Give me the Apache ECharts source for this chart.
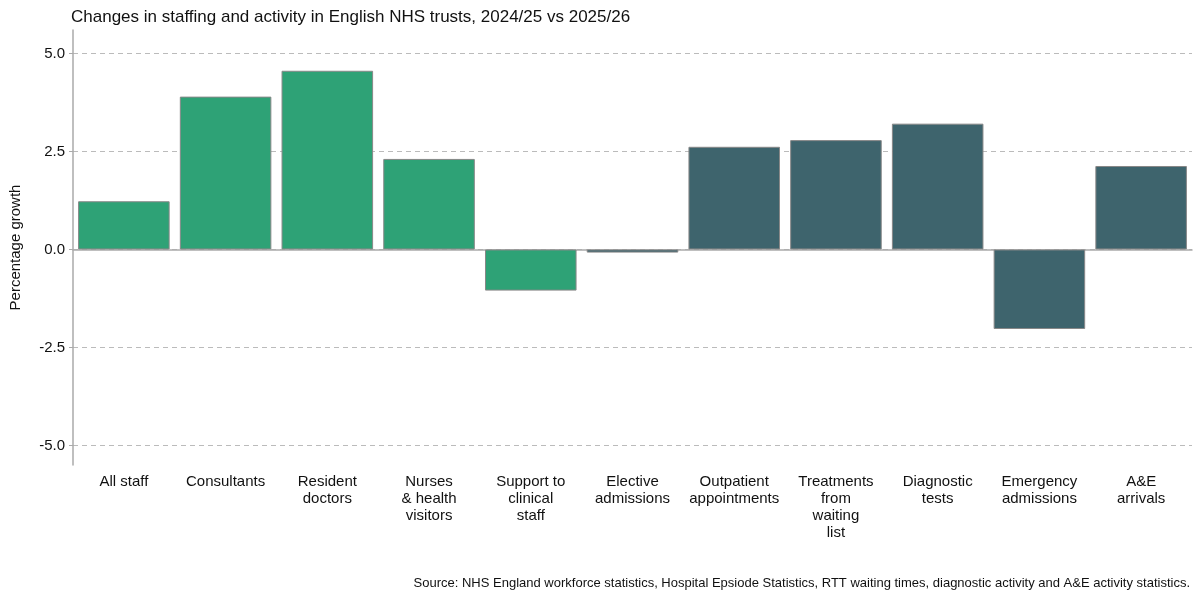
<!DOCTYPE html>
<html><head><meta charset="utf-8">
<script src="https://cdn.jsdelivr.net/npm/echarts@6/dist/echarts.min.js"></script>
<style>html,body{margin:0;background:#fff}#chart{width:1200px;height:600px}</style>
</head><body><div id="chart"></div>
<script>
const categories = ['All staff', 'Consultants', 'Resident\ndoctors', 'Nurses\n& health\nvisitors', 'Support to\nclinical\nstaff',
  'Elective\nadmissions', 'Outpatient\nappointments', 'Treatments\nfrom\nwaiting\nlist', 'Diagnostic\ntests', 'Emergency\nadmissions', 'A&E\narrivals'];
const growth = [1.23, 3.90, 4.56, 2.31, -1.05, -0.08, 2.62, 2.79, 3.21, -2.03, 2.13];
const groups = ['staff', 'staff', 'staff', 'staff', 'staff', 'activity', 'activity', 'activity', 'activity', 'activity', 'activity'];
const yTicks = [-5, -2.5, 0, 2.5, 5];
const colors = { staff: '#2ea276', activity: '#3e646d' };

const chart = echarts.init(document.getElementById('chart'));
chart.setOption({
  animation: false,
  textStyle: { fontFamily: 'Liberation Sans, Arial, sans-serif' },
  title: {
    text: 'Changes in staffing and activity in English NHS trusts, 2024/25 vs 2025/26',
    left: 66, top: 4,
    textStyle: { fontSize: 17, fontWeight: 'normal', color: '#111' }
  },
  graphic: [{
    type: 'text', right: 10, bottom: 10,
    style: { text: 'Source: NHS England workforce statistics, Hospital Epsiode Statistics, RTT waiting times, diagnostic activity and A&E activity statistics.', fontSize: 13, fill: '#111', fontFamily: 'Liberation Sans, Arial, sans-serif' }
  }],
  grid: { left: 70, right: 8, top: 30, bottom: 135 },
  xAxis: {
    type: 'category', data: categories,
    axisLine: { lineStyle: { color: '#aaa', width: 1.5 } },
    axisTick: { show: false },
    axisLabel: { interval: 0, color: '#111', fontSize: 15, lineHeight: 17, margin: 8 }
  },
  yAxis: {
    type: 'value', min: -5.5, max: 5.6,
    name: 'Percentage growth', nameLocation: 'middle', nameGap: 50, nameRotate: 90,
    nameTextStyle: { fontSize: 15, color: '#111' },
    axisLine: { show: true, lineStyle: { color: '#aaa', width: 1.5 } },
    axisTick: { show: true, customValues: yTicks, length: 4, lineStyle: { color: '#aaa' } },
    axisLabel: { customValues: yTicks, color: '#111', fontSize: 15, formatter: v => v.toFixed(1) },
    splitLine: { show: true, lineStyle: { type: [5, 4], color: '#bbb', width: 1.2 } }
  },
  series: [{
    type: 'bar', barCategoryGap: '10%',
    data: growth.map((v, i) => ({ value: v, itemStyle: { color: colors[groups[i]] } })),
    itemStyle: { borderColor: '#888', borderWidth: 1 }
  }]
});
</script></body></html>
